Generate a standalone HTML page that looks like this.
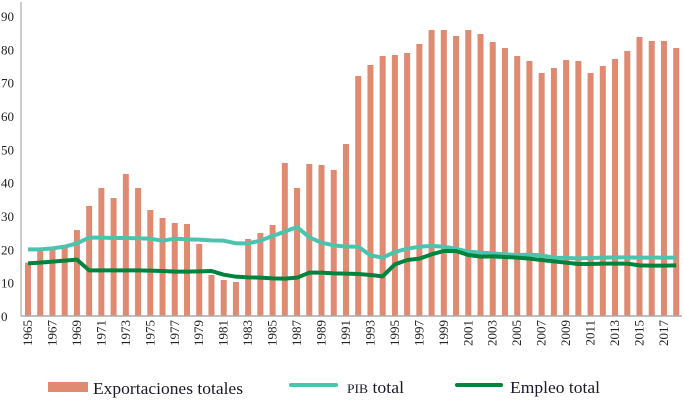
<!DOCTYPE html>
<html><head><meta charset="utf-8"><style>
body{margin:0;background:#fff}
svg{display:block;font-family:"Liberation Serif",serif}
</style></head><body>
<svg id="c" width="684" height="401">
<g id="bars"></g>
<g id="lines"></g>
<g id="axes"></g>
<g>
 <rect x="48" y="382" width="40" height="10" fill="#e08a72"/>
 <text x="93" y="394" font-size="17" textLength="150" lengthAdjust="spacingAndGlyphs" fill="#1a1a2a">Exportaciones totales</text>
 <line x1="291" y1="385" x2="336" y2="385" stroke="#4cc4ad" stroke-width="4" stroke-linecap="round"/>
 <text x="347" y="393" font-size="17" textLength="57" lengthAdjust="spacingAndGlyphs" fill="#1a1a2a"><tspan font-size="13">PIB</tspan> total</text>
 <line x1="457" y1="385" x2="501" y2="385" stroke="#00843d" stroke-width="4" stroke-linecap="round"/>
 <text x="510" y="393" font-size="17" textLength="90" lengthAdjust="spacingAndGlyphs" fill="#1a1a2a">Empleo total</text>
</g>
</svg>
<script>
const years=[];for(let y=1965;y<=2018;y++)years.push(y);
const exportaciones=[16,19.5,20,20.5,25.8,33,38.4,35.4,42.6,38.4,31.8,29.4,27.9,27.6,21.6,12.3,10.8,10.2,23.1,24.9,27.3,45.9,38.4,45.6,45.3,43.8,51.6,72,75.3,78,78.3,78.9,81.6,85.8,85.8,84,85.8,84.6,82.2,80.4,78,76.5,72.9,74.4,76.8,76.5,72.9,75,77.1,79.5,83.7,82.5,82.5,80.4];
const pib=[20,20,20.3,20.8,21.8,23.5,23.5,23.4,23.4,23.3,23.2,22.6,23.2,23,22.9,22.7,22.6,21.8,21.8,22.6,24,25.3,26.7,23.6,22,21.2,20.8,20.8,18.2,17.5,19.2,20.2,20.8,21,20.8,20.2,19.3,19,18.8,18.5,18.3,18.4,18.2,17.5,17.4,17.3,17.4,17.5,17.6,17.6,17.5,17.5,17.5,17.5];
const empleo=[15.8,16,16.3,16.6,16.9,13.7,13.7,13.7,13.7,13.7,13.6,13.5,13.3,13.3,13.4,13.5,12.4,11.8,11.6,11.5,11.3,11.2,11.5,13,13,12.8,12.7,12.6,12.3,11.9,15.5,16.8,17.2,18.5,19.5,19.5,18.3,17.8,17.9,17.7,17.5,17.2,16.8,16.4,16,15.6,15.6,15.7,15.7,15.7,15.2,15.1,15.1,15.2];
const yTicks=[0,10,20,30,40,50,60,70,80,90];
const NS='http://www.w3.org/2000/svg';
const x0=28,step=12.23,yb=316,yk=300/90;
const X=i=>x0+i*step, Y=v=>yb-v*yk;
function mk(t,a,p){const e=document.createElementNS(NS,t);for(const k in a)e.setAttribute(k,a[k]);p.appendChild(e);return e;}
const bars=document.getElementById('bars'),lines=document.getElementById('lines'),axes=document.getElementById('axes');
exportaciones.forEach((v,i)=>{const r=mk('rect',{x:X(i)-3,y:Y(v),width:6,height:yb-Y(v),fill:'#e08a72'},bars);

});
function line(d,c,n){const p=mk('polyline',{points:d.map((v,i)=>X(i)+','+Y(v)).join(' '),fill:'none',stroke:c,'stroke-width':4,'stroke-linejoin':'round'},lines);

}
line(pib,'#4cc4ad','pib-line');line(empleo,'#00843d','empleo-line');
const ax=mk('line',{x1:21,y1:2,x2:21,y2:yb,stroke:'#999','stroke-width':1},axes);


const bx=mk('line',{x1:21,y1:yb,x2:682,y2:yb,stroke:'#aaa','stroke-width':1.5},axes);


yTicks.forEach(v=>{const t=mk('text',{x:1,y:Y(v)+5,'font-size':13,fill:'#222'},axes);t.textContent=v;

});
years.forEach((y,i)=>{if((y-1965)%2)return;const t=mk('text',{transform:`translate(${X(i)+4},${yb+4}) rotate(-90)`,'text-anchor':'end','font-size':13,fill:'#222'},axes);t.textContent=y;

});
</script>
</body></html>
